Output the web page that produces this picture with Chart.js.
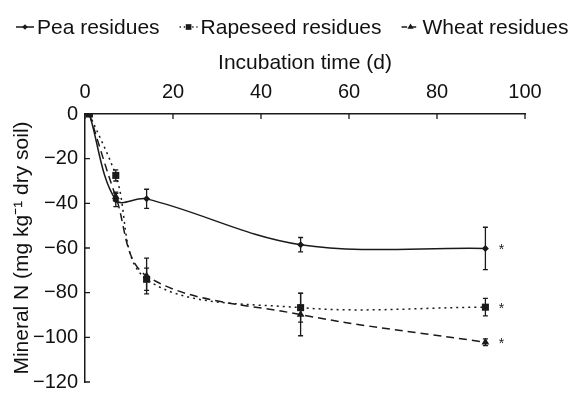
<!DOCTYPE html>
<html><head><meta charset="utf-8">
<script src="https://cdn.jsdelivr.net/npm/chart.js@4/dist/chart.umd.min.js"></script>
<style>html,body{margin:0;padding:0;background:#fff;}#wrap{width:571px;height:401px;}</style>
</head><body><div id="wrap"><canvas id="c" width="571" height="401"></canvas></div>
<script>
// ---- data ----
const days = [1, 7, 14, 49, 91];
const pea = [0, -38.5, -38, -58.5, -60.2];
const peaErr = [0, 3, 4.3, 3.2, 9.5];
const rapeseed = [0, -27.5, -74, -86.7, -86.5];
const rapeseedErr = [0, 2.5, 5, 6.5, 3.9];
const wheat = [0, -37, -72.5, -89.8, -102.2];
const wheatErr = [0, 2, 8, 9.5, 1.5];
const seriesNames = ['Pea residues', 'Rapeseed residues', 'Wheat residues'];
const sigMarks = ['*', '*', '*'];
const xTicks = [0, 20, 40, 60, 80, 100];
const yTicks = [0, -20, -40, -60, -80, -100, -120];
const yTickLabels = ['0', '\u221220', '\u221240', '\u221260', '\u221280', '\u2212100', '\u2212120'];
const xTitle = 'Incubation time (d)';
const yTitle = 'Mineral N (mg kg\u207B\u00B9 dry soil)';

const FONT = "'Liberation Sans', Arial, sans-serif";
const INK = '#1a1a1a';

const styles = [
  {dash: [], point: 'rectRot', r: 3.5},
  {dash: [2, 4], point: 'rect', r: 5},
  {dash: [8, 5], point: 'triangle', r: 4.5}
];
const values = [pea, rapeseed, wheat];
const errors = [peaErr, rapeseedErr, wheatErr];

const datasets = values.map((vals, k) => ({
  label: seriesNames[k],
  data: days.map((d, i) => ({x: d, y: vals[i]})),
  showLine: true,
  borderColor: INK,
  backgroundColor: INK,
  borderWidth: 1.5,
  borderDash: styles[k].dash,
  tension: 0.35,
  pointStyle: styles[k].point,
  pointRadius: styles[k].r,
  pointBorderWidth: 0,
  pointBackgroundColor: INK
}));

function drawMarker(ctx, style, r, x, y) {
  ctx.beginPath();
  if (style === 'rectRot') {
    ctx.moveTo(x, y - r); ctx.lineTo(x + r, y); ctx.lineTo(x, y + r); ctx.lineTo(x - r, y);
  } else if (style === 'rect') {
    const s = r * Math.SQRT1_2; ctx.rect(x - s, y - s, 2 * s, 2 * s);
  } else {
    ctx.moveTo(x, y - r); ctx.lineTo(x + r * 0.87, y + r * 0.5); ctx.lineTo(x - r * 0.87, y + r * 0.5);
  }
  ctx.closePath(); ctx.fill();
}

const decor = {
  id: 'decor',
  afterDatasetsDraw(chart) {
    const {ctx, scales: {x, y}} = chart;
    ctx.save();
    ctx.strokeStyle = INK; ctx.lineWidth = 1.3; ctx.setLineDash([]);
    values.forEach((vals, k) => {
      vals.forEach((v, i) => {
        const e = errors[k][i];
        if (!e) return;
        const px = x.getPixelForValue(days[i]);
        const p1 = y.getPixelForValue(v + e), p2 = y.getPixelForValue(v - e);
        ctx.beginPath();
        ctx.moveTo(px, p1); ctx.lineTo(px, p2);
        ctx.moveTo(px - 2.5, p1); ctx.lineTo(px + 2.5, p1);
        ctx.moveTo(px - 2.5, p2); ctx.lineTo(px + 2.5, p2);
        ctx.stroke();
      });
      const last = vals.length - 1;
      ctx.fillStyle = INK;
      ctx.font = '14px ' + FONT;
      ctx.textAlign = 'center'; ctx.textBaseline = 'alphabetic';
      ctx.fillText(sigMarks[k], x.getPixelForValue(days[last]) + 16, y.getPixelForValue(vals[last]) + 6);
    });
    ctx.restore();
  },
  afterDraw(chart) {
    const {ctx, scales: {x, y}, chartArea} = chart;
    ctx.save();
    ctx.strokeStyle = INK; ctx.lineWidth = 1.3;
    ctx.beginPath();
    xTicks.forEach(v => { const px = x.getPixelForValue(v); ctx.moveTo(px, chartArea.top); ctx.lineTo(px, chartArea.top + 5); });
    yTicks.forEach(v => { const py = y.getPixelForValue(v); ctx.moveTo(chartArea.left, py); ctx.lineTo(chartArea.left + 5, py); });
    ctx.stroke();
    // legend
    let lx = 16; const ly = 27;
    ctx.font = '21px ' + FONT;
    ctx.textBaseline = 'alphabetic'; ctx.textAlign = 'left';
    seriesNames.forEach((name, k) => {
      ctx.strokeStyle = INK; ctx.lineWidth = 1.5;
      ctx.setLineDash(styles[k].dash.map(d => d * 0.7));
      ctx.beginPath(); ctx.moveTo(lx, ly); ctx.lineTo(lx + 18, ly); ctx.stroke();
      ctx.setLineDash([]);
      ctx.fillStyle = INK;
      drawMarker(ctx, styles[k].point, styles[k].r * 0.8, lx + 9, ly);
      ctx.fillStyle = '#111';
      ctx.fillText(name, lx + 21, ly + 7);
      lx += 21 + ctx.measureText(name).width + 20;
    });
    ctx.restore();
  }
};

new Chart(document.getElementById('c'), {
  type: 'scatter',
  data: {datasets},
  plugins: [decor],
  options: {
    responsive: false,
    animation: false,
    layout: {padding: {left: 0, top: 0, right: 46, bottom: 9}},
    plugins: {legend: {display: false}, tooltip: {enabled: false}},
    scales: {
      x: {
        type: 'linear', position: 'top', min: 0, max: 100,
        afterBuildTicks: s => { s.ticks = xTicks.map(v => ({value: v})); },
        afterFit: s => { s.height = 114; },
        grid: {display: false, drawTicks: false},
        border: {display: true, color: INK, width: 1.5},
        ticks: {padding: 10, color: '#111', maxRotation: 0, font: {family: FONT, size: 20}},
        title: {display: true, text: xTitle, color: '#111', font: {family: FONT, size: 21}, padding: {top: 51, bottom: 0}}
      },
      y: {
        type: 'linear', min: -120, max: 0,
        afterBuildTicks: s => { s.ticks = yTicks.map(v => ({value: v})); },
        afterFit: s => { s.width = 85; },
        grid: {display: false, drawTicks: false},
        border: {display: true, color: INK, width: 1.5},
        ticks: {padding: 7, color: '#111', font: {family: FONT, size: 20},
          callback: v => yTickLabels[yTicks.indexOf(v)]},
        title: {display: true, text: yTitle, color: '#111', font: {family: FONT, size: 21}, padding: {top: 10, bottom: 0}}
      }
    }
  }
});
</script>
</body></html>
